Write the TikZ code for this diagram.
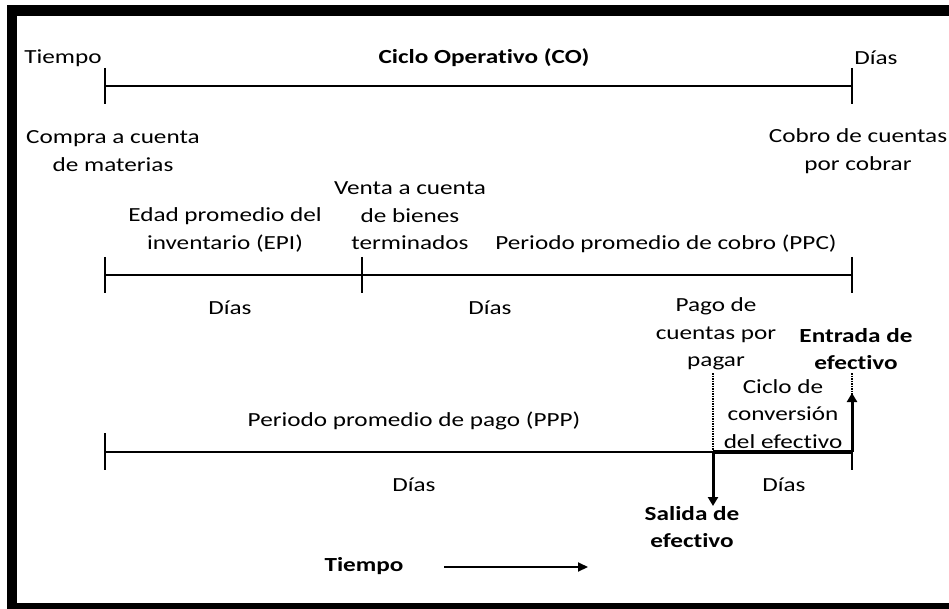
\documentclass[tikz,border=0pt]{standalone}
\usepackage{fontspec}
\setmainfont{Carlito}[FakeStretch=1.26,Ligatures={NoCommon}]
\usetikzlibrary{arrows.meta}
\begin{document}
\begin{tikzpicture}[x=1pt, y=-1pt, thick,
    label node/.style={align=center,inner sep=0pt,font=\fontsize{20}{27.5}\selectfont},
    bold node/.style={label node,font=\fontsize{20}{27.5}\selectfont\bfseries},
    time line/.style={line width=2pt},
    tick line/.style={line width=2pt},
    cash line/.style={line width=3.5pt},
    cash arrow/.style={line width=3pt,-{Triangle[length=9pt,width=10pt]}},
    guide line/.style={line width=2pt,dash pattern=on 1.5pt off 1pt}]

   \useasboundingbox (0,0) rectangle (949,609);
   \fill (7,5) rectangle (949,16);
   \fill (7,5) rectangle (17,609);
   \fill (7,603) rectangle (949,609);

   % ciclo operativo
   \coordinate (co1) at (105,86);
   \coordinate (co2) at (852,86);
   \node[label node] (tiempo) at (63,58) {Tiempo};
   \node[bold node] (co) at (484,58) {Ciclo Operativo (CO)};
   \node[label node] (dias0) at (876,58) {Días};

   \draw[time line] (co1) -- (co2);
   \draw[tick line] (co1) ++(0,-18) -- ++(0,36);
   \draw[tick line] (co2) ++(0,-18) -- ++(0,36);

   \node[label node] (compra) at (113,151) {Compra a cuenta\\de materias};
   \node[label node] (cobro) at (858,151) {Cobro de cuentas\\por cobrar};

   % EPI + PPC
   \coordinate (epi1) at (105,275);
   \coordinate (epi2) at (362,275);
   \coordinate (ppc2) at (852,275);
   \node[label node] (venta) at (410,216) {Venta a cuenta\\de bienes\\terminados};
   \node[label node] (epi) at (225,230) {Edad promedio del\\inventario (EPI)};
   \node[label node] (ppc) at (666,244) {Periodo promedio de cobro (PPC)};

   \draw[time line] (epi1) -- (epi2) -- (ppc2);
   \draw[tick line] (epi1) ++(0,-18) -- ++(0,36);
   \draw[tick line] (epi2) ++(0,-18) -- ++(0,36);
   \draw[tick line] (ppc2) ++(0,-18) -- ++(0,36);

   \node[label node] (dias1) at (230,308) {Días};
   \node[label node] (dias2) at (490,308) {Días};

   % PPP + ciclo de conversion
   \coordinate (ppp1) at (105,452);
   \coordinate (pay) at (713,452);
   \coordinate (ppp2) at (852,452);
   \coordinate (pay-top) at (713,373);
   \coordinate (in-top) at (852,373);
   \coordinate (in-tip) at (852,393);
   \coordinate (out-tip) at (713,506);

   \node[label node] (pago) at (716,334) {Pago de\\cuentas por\\pagar};
   \node[bold node] (entrada) at (856,349) {Entrada de\\efectivo};
   \node[label node] (ccc) at (783,414) {Ciclo de\\conversión\\del efectivo};
   \node[label node] (ppp) at (414,421) {Periodo promedio de pago (PPP)};

   \draw[guide line] (pay-top) -- (pay);
   \draw[guide line] (in-top) -- (ppp2);
   \draw[time line] (ppp1) -- (pay);
   \draw[cash line] (pay) -- (ppp2);
   \draw[tick line] (ppp1) ++(0,-19) -- ++(0,37);
   \draw[tick line] (ppp2) -- ++(0,18);
   \draw[cash arrow] (ppp2) -- (in-tip);
   \draw[cash arrow] (pay) -- (out-tip);

   \node[label node] (dias3) at (414,485) {Días};
   \node[label node] (dias4) at (784,485) {Días};
   \node[bold node] (salida) at (692,527) {Salida de\\efectivo};

   % eje del tiempo
   \node[bold node] (tiempo2) at (364,566) {Tiempo};
   \coordinate (t1) at (444,567);
   \coordinate (t2) at (588,567);
   \draw[line width=2pt,-{Triangle[length=10pt,width=9pt]}] (t1) -- (t2);

\end{tikzpicture}
\end{document}
